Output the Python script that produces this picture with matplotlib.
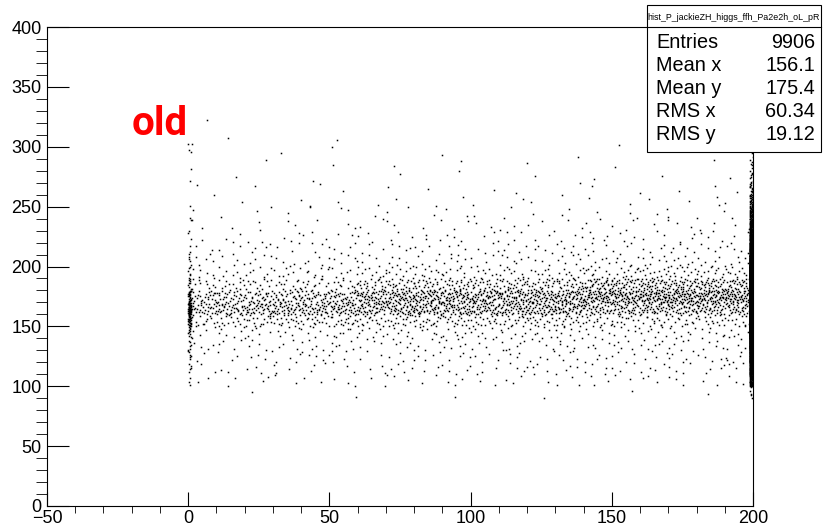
import numpy as np
import matplotlib.pyplot as plt

# y binning shared by all count tables below (10 units, 90 -> 310)
y_edges = np.arange(90, 311, 10)

# main band, 0 < x < 200, counts per 10x10 cell before column weights
band_x_edges = np.arange(0, 201, 10)
col_weight = [0.75, 0.8, 0.85, 0.9, 0.9, 0.95, 0.95, 1.0, 1.0, 1.0,
              1.0, 1.0, 1.0, 1.05, 1.05, 1.05, 1.1, 1.1, 1.1, 1.1]
profile_left = [0.3, 2.5, 3.5, 4, 5, 7, 20, 46, 34, 14, 8,
                5, 4, 3, 2, 1.5, 1, 0.7, 0.4, 0.3, 0.2, 0.1]
profile_mid = [0.3, 2.5, 3.5, 4, 5, 7, 17, 46, 50, 24, 9,
               5, 4, 3, 2, 1.5, 1, 0.7, 0.4, 0.3, 0.2, 0.1]
profile_right = [0.3, 2.5, 3.5, 4, 5, 6, 13, 36, 58, 34, 11,
                 6, 4, 3, 2, 1.5, 1, 0.7, 0.4, 0.3, 0.2, 0.1]
profile_split = [60, 140]

# pile-ups at the edges of the x range
stripe0_x = (0.0, 1.0)
stripe0_counts = [0, 3, 4, 5, 6, 10, 25, 45, 20, 8, 6,
                  4, 3, 2, 1, 1, 1, 0, 1, 1, 1, 1]
stripe200_x = (198.8, 200.0)
stripe200_counts = [5, 60, 120, 180, 250, 400, 700, 1000, 1100, 700, 400,
                    250, 150, 90, 60, 40, 25, 15, 8, 5, 3, 0]

# isolated high entries
outlier_x = [6.6, 14.0, 51.0, 73.0, 1.0, 1.5]
outlier_y = [322, 307, 300, 284, 296, 302]

stat_name = "hist_P_jackieZH_higgs_ffh_Pa2e2h_oL_pR"
stat_labels = ["Entries", "Mean x", "Mean y", "RMS x", "RMS y"]
stat_values = ["9906", "156.1", "175.4", "60.34", "19.12"]

G1, G2 = 0.7548776662466927, 0.5698402909980532


def radical_inverse(i, base):
    out = np.zeros(len(i))
    f = 1.0 / base
    i = i.copy()
    while np.any(i > 0):
        out += f * (i % base)
        i //= base
        f /= base
    return out


def fill_cell(x0, x1, y0, y1, n, cell):
    # spread n entries evenly over the cell: Halton (2, 3) points with a
    # per-cell start and shift so neighbouring cells don't line up
    start = (cell * 37) % 101 + 1
    i = np.arange(start, start + n)
    u = (radical_inverse(i, 2) + cell * G1) % 1.0
    v = (radical_inverse(i, 3) + cell * G2) % 1.0
    return x0 + u * (x1 - x0), y0 + v * (y1 - y0)


def build_points():
    xs, ys = [], []
    cell = 0
    for c in range(len(band_x_edges) - 1):
        x0, x1 = band_x_edges[c], band_x_edges[c + 1]
        if x0 < profile_split[0]:
            prof = profile_left
        elif x0 < profile_split[1]:
            prof = profile_mid
        else:
            prof = profile_right
        for r in range(len(y_edges) - 1):
            # carry fractional counts along the row
            acc = np.cumsum(np.array(col_weight) * prof[r])
            before = 0 if c == 0 else round(acc[c - 1])
            n = int(round(acc[c]) - before)
            cell += 1
            if n <= 0:
                continue
            px, py = fill_cell(x0, x1, y_edges[r], y_edges[r + 1], n, cell)
            xs.append(px)
            ys.append(py)
    for (xa, xb), counts in [(stripe0_x, stripe0_counts),
                             (stripe200_x, stripe200_counts)]:
        for r, n in enumerate(counts):
            cell += 1
            if n == 0:
                continue
            px, py = fill_cell(xa, xb, y_edges[r], y_edges[r + 1], n, cell)
            xs.append(px)
            ys.append(py)
    xs.append(np.array(outlier_x))
    ys.append(np.array(outlier_y, dtype=float))
    return np.concatenate(xs), np.concatenate(ys)


plt.rcParams['font.family'] = ['Liberation Sans', 'DejaVu Sans']

fig = plt.figure(figsize=(8.23, 5.29), dpi=100)
W, H = 823, 529
ax = fig.add_axes([47 / W, 23 / H, 706 / W, 479 / H])

x, y = build_points()
ax.plot(x, y, linestyle='none', marker='s', markersize=1.1,
        markeredgewidth=0, color='black', antialiased=False)

ax.set_xlim(-50, 200)
ax.set_ylim(0, 400)
ax.set_xticks(np.arange(-50, 201, 50))
ax.set_xticks(np.arange(-50, 201, 10), minor=True)
ax.set_yticks(np.arange(0, 401, 50))
ax.set_yticks(np.arange(0, 401, 10), minor=True)
ax.tick_params(direction='in', top=False, right=False, width=0.8,
               labelsize=13, colors='black')
ax.tick_params(axis='x', which='major', length=10, pad=3)
ax.tick_params(axis='x', which='minor', length=5)
ax.tick_params(axis='y', which='major', length=16, pad=4)
ax.tick_params(axis='y', which='minor', length=8)
for s in ax.spines.values():
    s.set_linewidth(0.8)

ax.text(-10, 310, "old", color='red', fontsize=29, fontweight='bold',
        family='Roboto', ha='center', va='baseline')

# statistics box
box_l, box_r, box_t, box_b, head_b = 647, 821, 5, 152, 27
fig.patches.append(plt.Rectangle((box_l / W, 1 - box_b / H),
                                 (box_r - box_l) / W, (box_b - box_t) / H,
                                 transform=fig.transFigure, facecolor='white',
                                 edgecolor='black', linewidth=0.8, zorder=5))
fig.lines.append(plt.Line2D([box_l / W, box_r / W], [1 - head_b / H] * 2,
                            transform=fig.transFigure, color='black',
                            linewidth=0.8, zorder=6))
fig.text((box_l + box_r) / 2 / W, 1 - 17 / H, stat_name, fontsize=6.4,
         ha='center', va='center', zorder=7)
for i, (lab, val) in enumerate(zip(stat_labels, stat_values)):
    yy = 1 - (43 + 22.8 * i) / H
    fig.text(656 / W, yy, lab, fontsize=14.3, ha='left', va='center', zorder=7)
    fig.text(815 / W, yy, val, fontsize=14.3, ha='right', va='center', zorder=7)

fig.savefig("out.png", dpi=100)
